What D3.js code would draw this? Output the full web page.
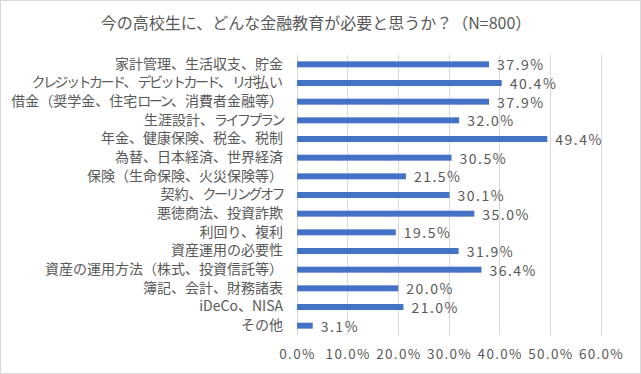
<!DOCTYPE html>
<html><head><meta charset="utf-8">
<script src="https://cdn.jsdelivr.net/npm/d3@7"></script>
<style>body{margin:0;background:#fff}svg{display:block}</style>
</head><body>
<script>
const categories = ["家計管理、生活収支、貯金","クレジットカード、デビットカード、リボ払い","借金（奨学金、住宅ローン、消費者金融等）","生涯設計、ライフプラン","年金、健康保険、税金、税制","為替、日本経済、世界経済","保険（生命保険、火災保険等）","契約、クーリングオフ","悪徳商法、投資詐欺","利回り、複利","資産運用の必要性","資産の運用方法（株式、投資信託等）","簿記、会計、財務諸表","iDeCo、NISA","その他"];
const values = [37.9,40.4,37.9,32.0,49.4,30.5,21.5,30.1,35.0,19.5,31.9,36.4,20.0,21.0,3.1];
const xTicks = [0,10,20,30,40,50,60];
const title = "今の高校生に、どんな金融教育が必要と思うか？（N=800）";

const W=641,H=374;
const font='"Noto Sans CJK JP","Noto Sans",sans-serif';
const svg=d3.select("body").append("svg").attr("width",W).attr("height",H).style("font-family",font);
svg.append("rect").attr("x",0.5).attr("y",0.5).attr("width",W-1).attr("height",H-1).attr("fill","#fff").attr("stroke","#d9d9d9");
const m={l:297,r:40,t:55,b:39};
const x=d3.scaleLinear().domain([0,60]).range([m.l,601]);
const y=d3.scaleBand().domain(categories).range([m.t,335]).paddingInner(0.68).paddingOuter(0.34);

svg.append("text").attr("x",316).attr("y",29).attr("text-anchor","middle").attr("font-size",16).attr("fill","#595959").text(title);

const g=svg.append("g");
g.selectAll("line.grid").data(xTicks).join("line").attr("class","grid")
 .attr("x1",d=>x(d)).attr("x2",d=>x(d)).attr("y1",m.t).attr("y2",335)
 .attr("stroke","#d9d9d9").attr("stroke-width",1).attr("shape-rendering","crispEdges");

const xAxis=d3.axisBottom(x).tickValues(xTicks).tickFormat(d=>d.toFixed(1)+"%").tickSize(0).tickPadding(0);
const ax=svg.append("g").attr("transform","translate(0,350)").call(xAxis);
ax.select(".domain").remove();
ax.selectAll("text").attr("font-size",13.5).attr("letter-spacing","1.3px").attr("fill","#595959").attr("font-family",font).attr("dy","0.7em");

const yAxis=d3.axisLeft(y).tickSize(0).tickPadding(14);
const ay=svg.append("g").attr("transform",`translate(${m.l},0)`).call(yAxis);
ay.select(".domain").remove();
ay.selectAll("text").attr("font-size",14).attr("fill","#595959").attr("font-family",font)
 .each(function(d){
   const t=d3.select(this); t.text(null);
   const runs=d.match(/[\u30a0-\u30ff]+|[^\u30a0-\u30ff]+/g);
   runs.forEach(r=>{const sp=t.append("tspan").text(r);
     if(/[\u30a0-\u30ff]/.test(r)) sp.attr("letter-spacing","-2.5px");});
 });

const bw=y.bandwidth();
g.selectAll("rect.bar").data(values).join("rect").attr("class","bar")
 .attr("x",x(0)).attr("y",(d,i)=>y(categories[i])).attr("width",d=>x(d)-x(0)).attr("height",bw).attr("fill","#4472c4");
g.selectAll("text.val").data(values).join("text").attr("class","val")
 .attr("x",d=>x(d)+8).attr("y",(d,i)=>y(categories[i])+bw/2+1).attr("dy","0.35em")
 .attr("font-size",14).attr("letter-spacing","1.5px").attr("fill","#595959").text(d=>d.toFixed(1)+"%");
</script>
</body></html>
